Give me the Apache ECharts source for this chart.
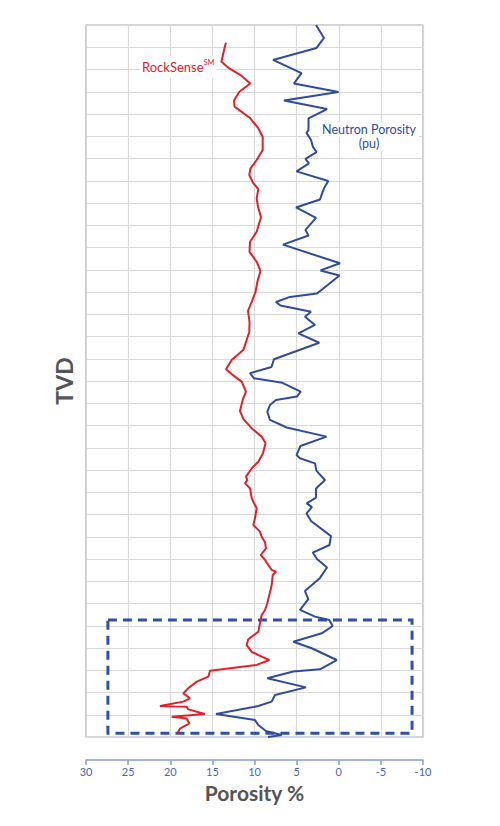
<!DOCTYPE html>
<html>
<head>
<meta charset="utf-8">
<script src="https://cdn.jsdelivr.net/npm/echarts@6/dist/echarts.min.js"></script>
<style>html,body{margin:0;padding:0;background:#fff;}#c{width:500px;height:826px;}</style>
</head>
<body>
<div id="c"></div>
<script>
// Neutron porosity (pu) vs depth (grid rows from top)
var neutronPorosity = [2.70,1.75,2.64,7.80,4.42,5.31,0.03,6.50,1.39,3.59,3.59,3.83,3.29,3.06,2.64,3.95,3.53,5.01,1.24,1.75,2.23,5.07,2.70,3.95,3.59,6.62,-0.15,2.17,-0.09,2.58,5.79,7.45,6.91,3.29,4.01,2.82,4.78,2.31,7.69,7.98,10.53,10.06,6.68,4.52,4.96,7.45,8.16,8.48,8.16,6.18,1.45,4.54,5.01,4.60,2.82,2.64,1.63,2.70,2.70,3.80,3.18,3.83,3.29,0.92,1.10,3.09,2.58,1.39,2.23,4.01,3.61,4.60,2.82,1.12,0.72,2.02,5.39,3.21,0.24,2.23,5.39,8.48,3.89,7.57,7.96,9.55,14.57,9.94,9.55,8.64,6.77,8.40];
var neutronDepth = [0,0.58,1.03,1.57,2.16,2.63,3.01,3.39,3.78,4.20,4.72,4.85,5.17,5.48,5.71,6.02,6.22,6.58,7.01,7.34,7.84,8.20,8.67,9.21,9.46,9.87,10.71,11.03,11.26,12.07,12.22,12.45,12.61,12.89,13.11,13.48,13.86,14.28,15.02,15.37,15.65,15.88,16.08,16.48,16.70,16.85,17.08,17.38,17.75,18.09,18.50,18.92,19.33,19.47,19.70,20.04,20.45,20.83,21.24,21.50,21.67,21.95,22.29,22.97,23.37,23.71,24.00,24.38,24.85,25.44,25.80,26.29,26.59,26.74,27.01,27.34,27.72,28.01,28.54,28.96,29.06,29.36,29.77,30.11,30.41,30.61,30.97,31.24,31.46,31.73,31.91,32.0];
// RockSense porosity (%) vs depth
var rockSense = [13.38,13.50,13.70,13.92,12.99,11.52,10.50,11.80,12.43,12.37,10.53,9.55,9.03,9.03,9.74,10.47,10.62,10.14,9.55,9.74,9.58,9.23,9.74,10.53,10.59,9.74,9.29,9.64,9.88,10.33,10.77,10.59,10.62,10.93,11.33,12.31,12.71,13.38,12.71,11.52,11.01,11.40,11.72,11.31,10.24,9.15,8.69,8.99,9.55,10.30,11.01,10.85,11.13,10.53,10.33,9.74,9.94,10.14,9.35,9.15,8.75,8.64,9.26,8.75,8.36,7.96,7.45,7.84,7.96,8.24,8.48,8.75,9.15,9.35,9.55,10.74,10.93,10.33,9.15,8.24,9.74,15.28,15.48,16.86,17.86,18.45,17.66,18.45,21.22,18.05,17.86,15.88,19.83,18.05,17.74,18.84,19.14];
var rockDepth = [0.80,0.94,1.27,1.65,1.95,2.29,2.63,3.00,3.39,3.67,4.18,4.64,5.02,5.62,6.07,6.44,6.74,7.11,7.37,7.79,8.18,8.63,9.29,9.74,10.20,10.64,11.06,11.51,12.00,12.44,12.85,13.35,13.80,14.16,14.61,14.92,15.06,15.47,15.69,16.03,16.48,16.85,17.35,17.71,18.16,18.50,18.79,19.25,19.63,19.91,20.30,20.45,20.60,20.82,21.27,21.72,22.17,22.47,22.77,23.00,23.25,23.52,23.82,24.04,24.27,24.49,24.57,24.72,25.17,25.62,25.99,26.29,26.52,26.89,27.27,27.61,27.87,28.17,28.39,28.54,28.76,29.02,29.29,29.51,29.81,30.04,30.26,30.41,30.61,30.64,30.76,30.97,31.09,31.17,31.39,31.62,31.82];
// Highlighted zone (dashed box): porosity bounds and depth bounds
var zonePorosity = [27.4, -8.7];
var zoneDepth = [26.74, 31.83];
// Axis ranges
var porosityRange = [-10, 30];
var depthRange = [0, 32];

var red = '#e2202b', blue = '#2f4b9f';
function zip(xs, ys){ return xs.map(function(v,i){ return [v, ys[i]]; }); }

var chart = echarts.init(document.getElementById('c'), null, {renderer:'svg'});
chart.setOption({
  animation: false,
  backgroundColor: '#fff',
  grid: {left: 86, right: 77, top: 25, bottom: 89, show: true, borderColor: '#a9a9a9', borderWidth: 1.2, containLabel: false},
  xAxis: {
    type: 'value', inverse: true, min: porosityRange[0], max: porosityRange[1], interval: 5,
    position: 'bottom', offset: 23,
    axisLine: {show: true, onZero: false, lineStyle: {color: '#8b9bd6', width: 1.5}},
    axisTick: {show: true, length: 5, lineStyle: {color: '#8b9bd6', width: 1.5}},
    axisLabel: {color: '#4a64bd', fontSize: 11, fontFamily: 'Lato', margin: 6},
    splitLine: {show: true, lineStyle: {color: '#d9d9d9', width: 1.2}},
    name: 'Porosity %', nameLocation: 'middle', nameGap: 20,
    nameTextStyle: {color: '#555', fontSize: 21, fontWeight: 'bold', fontFamily: 'Lato'}
  },
  yAxis: {
    type: 'value', inverse: true, min: depthRange[0], max: depthRange[1], interval: 1,
    axisLine: {show: false, onZero: false}, axisTick: {show: false}, axisLabel: {show: false},
    splitLine: {show: true, lineStyle: {color: '#d9d9d9', width: 1.2}},
    name: 'TVD', nameLocation: 'middle', nameGap: 11, nameRotate: 90,
    nameTextStyle: {color: '#555', fontSize: 23, fontWeight: 'bold', fontFamily: 'Lato'}
  },
  series: [
    {
      name: 'RockSense', type: 'line', data: zip(rockSense, rockDepth),
      showSymbol: false, lineStyle: {color: red, width: 2}, z: 3
    },
    {
      name: 'Neutron Porosity', type: 'line', data: zip(neutronPorosity, neutronDepth),
      showSymbol: false, lineStyle: {color: blue, width: 2}, z: 3,
      markArea: {
        silent: true,
        itemStyle: {color: 'rgba(0,0,0,0)', borderColor: '#2f4fa8', borderWidth: 3, borderType: [9, 6]},
        data: [[{coord: [zonePorosity[0], zoneDepth[0]]}, {coord: [zonePorosity[1], zoneDepth[1]]}]]
      }
    }
  ],
  graphic: [
    {type: 'text', x: 140, y: 56, z: 10,
     style: {text: '{a|RockSense}{b|SM}', backgroundColor: '#fff', padding: [2, 2],
       rich: {a: {fill: red, fontSize: 13, fontFamily: 'Lato', lineHeight: 18},
              b: {fill: red, fontSize: 7.5, fontFamily: 'Lato', verticalAlign: 'top', lineHeight: 18}}}},
    {type: 'text', x: 369, y: 122, z: 10,
     style: {text: 'Neutron Porosity', fill: blue, fontSize: 12.5, fontFamily: 'Lato', align: 'center', verticalAlign: 'top', backgroundColor: '#fff', padding: [1, 3]}},
    {type: 'text', x: 369, y: 136, z: 10,
     style: {text: '(pu)', fill: blue, fontSize: 12.5, fontFamily: 'Lato', align: 'center', verticalAlign: 'top', backgroundColor: '#fff', padding: [1, 3]}}
  ]
});
</script>
</body>
</html>
